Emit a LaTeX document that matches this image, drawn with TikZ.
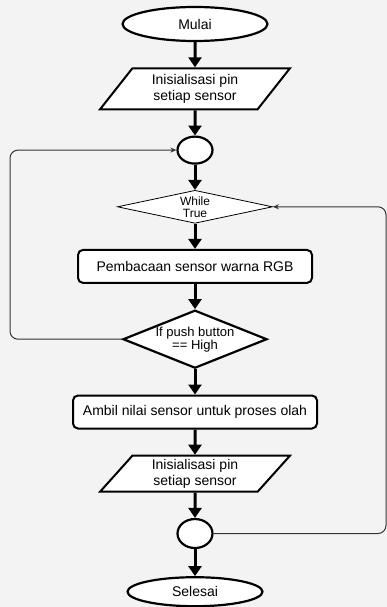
\documentclass[tikz,border=0pt]{standalone}
\usepackage{fontspec}
\setmainfont{Liberation Sans}
\usetikzlibrary{positioning, arrows.meta, shapes.geometric}
\definecolor{bggray}{RGB}{243,243,243}

\begin{document}
\begin{tikzpicture}[
                x=1pt, y=-1pt,
                font=\fontsize{14}{15.5}\selectfont,
                node distance=25.2pt,
                term/.style={ellipse, draw, line width=2.2pt, fill=white, minimum width=145pt, minimum height=34pt, inner sep=0pt},
                io/.style={trapezium, trapezium left angle=52, trapezium right angle=128, trapezium stretches=true, draw, line width=2pt, fill=white, minimum width=190pt, minimum height=41pt, align=center, inner sep=0pt},
                proc/.style={rectangle, rounded corners=5pt, draw, line width=2pt, fill=white, minimum height=33pt, inner sep=0pt},
                conn/.style={ellipse, draw, line width=2.2pt, fill=white, minimum width=35pt, minimum height=27pt, inner sep=0pt},
                dec/.style={diamond, draw, fill=white, inner sep=0pt},
                flow/.style={-{Triangle[length=10pt, width=13pt]}, line width=3pt},
                loopline/.style={-{Stealth[length=6pt, width=5pt]}, line width=1pt, draw=black!80, rounded corners=8pt},
            ]
            
            % Page and background
            \useasboundingbox (0,0) rectangle (387,607);
            \fill[bggray] (0,0) rectangle (387,607);
            
            % Nodes in a vertical arrangement
            \node[term] (start) at (195,24) {Mulai};
            \node[io, below=of start] (init1) {Inisialisasi pin\\setiap sensor};
            \node[conn, below=of init1] (con1) {};
            \node[dec, below=of con1, minimum width=155pt, minimum height=33pt, line width=0.8pt,
                  label={[align=center, font=\fontsize{12}{12}\selectfont]center:While\\True}] (wt) {};
            \node[proc, below=of wt, minimum width=234pt] (read) {Pembacaan sensor warna RGB};
            \node[dec, below=of read, minimum width=144pt, minimum height=58pt, line width=2.2pt,
                  label={[align=center, font=\fontsize{13}{13}\selectfont]center:If push button\\== High}] (ifpb) {};
            \node[proc, below=of ifpb, minimum width=244pt] (take) {Ambil nilai sensor untuk proses olah};
            \node[io, below=of take, minimum height=36pt] (init2) {Inisialisasi pin\\setiap sensor};
            \node[conn, below=of init2, minimum height=29pt] (con2) {};
            \node[term, below=27pt of con2, minimum width=135pt, minimum height=29pt] (stop) {Selesai};
            
            % Main flow
            \draw[flow] (start) -- (init1);
            \draw[flow] (init1) -- (con1);
            \draw[flow] (con1) -- (wt);
            \draw[flow] (wt) -- (read);
            \draw[flow] (read) -- (ifpb);
            \draw[flow] (ifpb) -- (take);
            \draw[flow] (take) -- (init2);
            \draw[flow] (init2) -- (con2);
            \draw[flow] (con2) -- (stop);
            
            % Loop connections
            \coordinate (lx) at (10,0);
            \coordinate (rx) at (386,0);
            \draw[loopline] (ifpb.west) -- (ifpb.west -| lx) |- (con1.west);
            \draw[loopline] (con2.east) -- (con2.east -| rx) |- (wt.east);
    
            \end{tikzpicture}
\end{document}
